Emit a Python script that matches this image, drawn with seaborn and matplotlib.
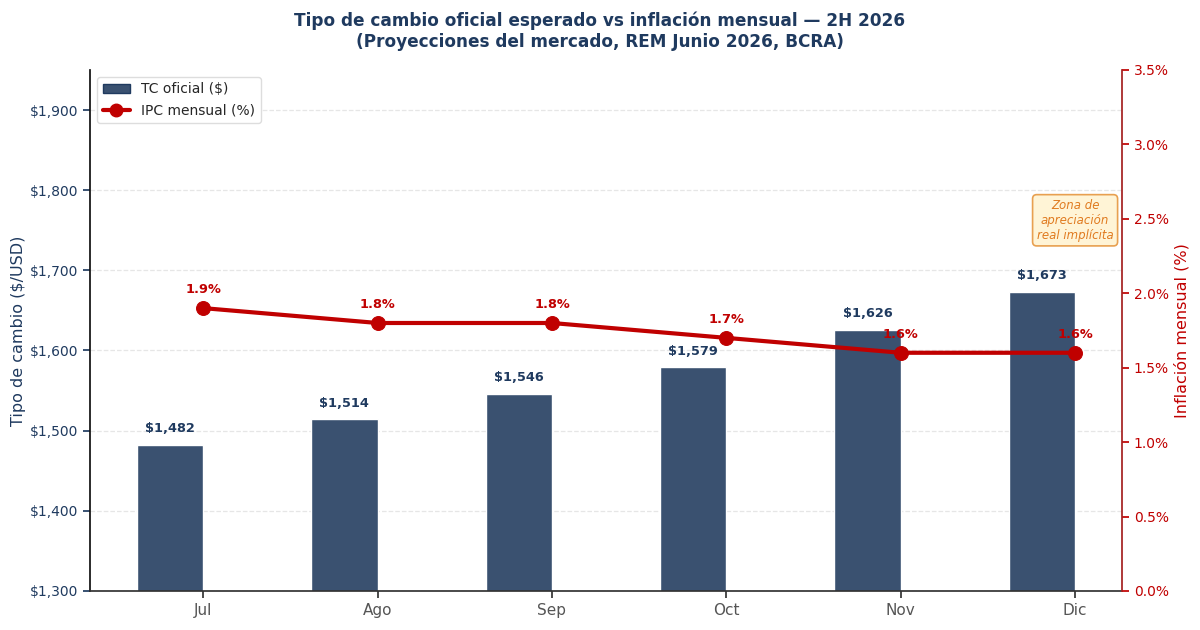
import matplotlib
matplotlib.use("Agg")
import matplotlib.pyplot as plt
import seaborn as sns
import numpy as np
import pandas as pd
from matplotlib.ticker import FuncFormatter
from matplotlib.lines import Line2D
from matplotlib.patches import Patch

meses = ["Jul", "Ago", "Sep", "Oct", "Nov", "Dic"]
tc_oficial = [1482, 1514, 1546, 1579, 1626, 1673]
ipc_mensual = [1.9, 1.8, 1.8, 1.7, 1.6, 1.6]

BAR_C = "#3a5170"
NAVY = "#1f3a5f"
RED = "#c00000"

sns.set_theme(style="white")
plt.rcParams['font.family'] = ['DejaVu Sans']

fig = plt.figure(figsize=(12, 6.3), dpi=100)
ax = fig.add_axes([0.075, 0.062, 0.86, 0.827])

x = np.arange(len(meses))
w = 0.38
ax.bar(x - w / 2, tc_oficial, width=w, color=BAR_C, zorder=2, label="TC oficial ($)")
ax.set_ylim(1300, 1950)
ax.set_xticks(x)
ax.set_xticklabels(meses, fontsize=11, color="#555555")
ax.yaxis.set_major_formatter(FuncFormatter(lambda v, p: f"${v:,.0f}"))
ax.tick_params(axis="y", colors=NAVY, labelsize=10, left=True, length=5)
ax.tick_params(axis="x", bottom=True, length=5, colors="#333333", labelcolor="#555555")
ax.set_ylabel("Tipo de cambio ($/USD)", fontsize=11.5, color=NAVY, labelpad=3)
ax.grid(axis="y", linestyle="--", color="#e6e6e6", linewidth=0.9, zorder=0)
ax.grid(axis="x", visible=False)
ax.spines["top"].set_visible(False)
ax.spines["left"].set_color("#111111")
ax.spines["bottom"].set_color("#333333")
ax.spines["right"].set_visible(False)
for xi, v in zip(x, tc_oficial):
    ax.text(xi - w / 2, v + 12, f"${v:,.0f}", ha="center", va="bottom",
            fontsize=9.3, fontweight="bold", color=NAVY)

ax2 = ax.twinx()
df = pd.DataFrame({"x": x, "ipc": ipc_mensual})
sns.lineplot(data=df, x="x", y="ipc", ax=ax2, color=RED, linewidth=3,
             marker="o", markersize=10, markeredgecolor=RED, zorder=3)
ax2.set_ylim(0, 3.5)
ax2.set_yticks(np.arange(0, 3.51, 0.5))
ax2.yaxis.set_major_formatter(FuncFormatter(lambda v, p: f"{v:.1f}%"))
ax2.tick_params(axis="y", colors=RED, labelsize=10, right=True, length=5)
ax2.set_ylabel("Inflación mensual (%)", fontsize=11.5, color=RED)
ax2.set_xlabel("")
ax2.spines["top"].set_visible(False)
ax2.spines["left"].set_visible(False)
ax2.spines["bottom"].set_visible(False)
ax2.spines["right"].set_color("#a52020")
ax2.grid(False)
for xi, v in zip(x, ipc_mensual):
    ax2.text(xi, v + 0.08, f"{v:.1f}%", ha="center", va="bottom",
             fontsize=9.3, fontweight="bold", color=RED)

ax.set_xlim(-0.649, 5.269)
ax2.set_xlim(-0.649, 5.269)

ax2.text(5.0, 2.49, "Zona de\napreciación\nreal implícita", ha="center", va="center",
         fontsize=8.5, fontstyle="italic", color="#e07b20",
         bbox=dict(boxstyle="round,pad=0.35", fc="#fff4d6", ec="#e8a050", lw=1.2))

handles = [Patch(facecolor=BAR_C, edgecolor=NAVY, label="TC oficial ($)"),
           Line2D([0], [0], color=RED, lw=3, marker="o", markersize=9, label="IPC mensual (%)")]
ax.legend(handles=handles, loc="upper left", fontsize=10, frameon=True,
          framealpha=1, edgecolor="#dddddd")

fig.suptitle("Tipo de cambio oficial esperado vs inflación mensual — 2H 2026\n"
             "(Proyecciones del mercado, REM Junio 2026, BCRA)",
             fontsize=12.2, fontweight="bold", color=NAVY, y=0.982)

fig.savefig("out.png", dpi=100)
